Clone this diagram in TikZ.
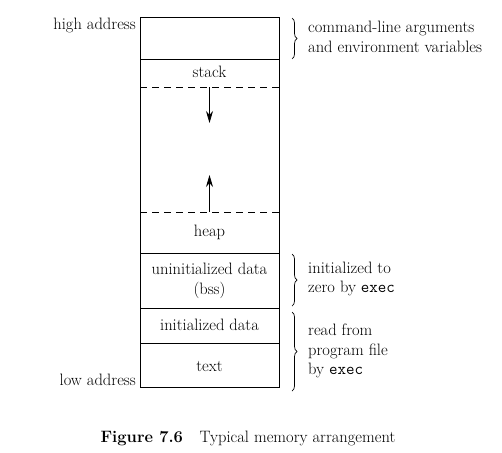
\documentclass[tikz,border=0pt]{standalone}
\usetikzlibrary{decorations.pathreplacing,arrows.meta}
\begin{document}
\begin{tikzpicture}[x=1pt,y=-1pt,
  lbl/.style={font=\fontsize{16.5}{19}\selectfont, inner sep=0pt},
  side/.style={lbl, anchor=west, align=left, font=\fontsize{16.5}{19.5}\selectfont},
  seg/.style={draw, line width=0.8pt},
  sep/.style={line width=0.8pt},
  dsep/.style={line width=0.8pt, dashed, dash pattern=on 7pt off 5pt},
  brc/.style={decorate, decoration={brace, amplitude=5pt}, line width=0.7pt},
  arr/.style={-{Stealth[length=12pt,width=7pt]}, line width=0.8pt}]
\useasboundingbox (0,0) rectangle (502,452);
% memory box
\draw[seg] (140,17) rectangle (279,387);
\coordinate (L59) at (140,59); \coordinate (R59) at (279,59);
\coordinate (L87) at (140,87); \coordinate (R87) at (279,87);
\coordinate (L212) at (140,212); \coordinate (R212) at (279,212);
\coordinate (L253) at (140,253); \coordinate (R253) at (279,253);
\coordinate (L308) at (140,308); \coordinate (R308) at (279,308);
\coordinate (L343) at (140,343); \coordinate (R343) at (279,343);
\draw[sep] (L59) -- (R59);
\draw[dsep] (L87) -- (R87);
\draw[dsep] (L212) -- (R212);
\draw[sep] (L253) -- (R253);
\draw[sep] (L308) -- (R308);
\draw[sep] (L343) -- (R343);
% labels in segments
\node[lbl] (stack) at (209.5,72) {stack};
\node[lbl] (heap) at (209.5,232) {heap};
\node[lbl, align=center, font=\fontsize{16.5}{19.5}\selectfont] (bss) at (209.5,281) {uninitialized data\\(bss)};
\node[lbl] (idata) at (209.5,325) {initialized data};
\node[lbl] (text) at (209.5,366) {text};
% arrows
\coordinate (a1s) at (209.5,87); \coordinate (a1e) at (209.5,123);
\coordinate (a2s) at (209.5,212); \coordinate (a2e) at (209.5,175);
\draw[arr] (a1s) -- (a1e);
\draw[arr] (a2s) -- (a2e);
% address labels
\node[lbl, anchor=base east] (high) at (136,30) {high address};
\node[lbl, anchor=base east] (low) at (136,385) {low address};
% braces
\coordinate (b1t) at (292,18); \coordinate (b1b) at (292,59);
\coordinate (b2t) at (292,254); \coordinate (b2b) at (292,306);
\coordinate (b3t) at (292,312); \coordinate (b3b) at (292,391);
\draw[brc] (b1t) -- (b1b);
\draw[brc] (b2t) -- (b2b);
\draw[brc] (b3t) -- (b3b);
\node[side] (t1) at (308,37) {command-line arguments\\and environment variables};
\node[side] (t2) at (308,279) {initialized to\\zero by \texttt{exec}};
\node[side] (t3) at (308,351) {read from\\program file\\by \texttt{exec}};
% caption
\node[lbl, anchor=base] (cap) at (248,442) {\textbf{Figure 7.6}\quad Typical memory arrangement};
\end{tikzpicture}
\end{document}
